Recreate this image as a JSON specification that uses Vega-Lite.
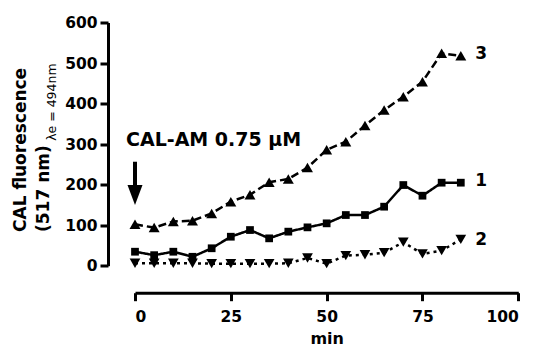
{
  "$schema": "https://vega.github.io/schema/vega-lite/v6.json",
  "width": 383.3,
  "height": 243.2,
  "autosize": {"type": "none"},
  "padding": {"left": 135, "top": 22.5, "right": 15.7, "bottom": 82.3},
  "background": "white",
  "config": {
    "font": "DejaVu Sans",
    "view": {"stroke": null},
    "axis": {
      "grid": false,
      "domainColor": "black",
      "domainWidth": 3,
      "tickColor": "black",
      "tickWidth": 3,
      "tickSize": 8,
      "labelFont": "DejaVu Sans",
      "labelFontWeight": "bold",
      "labelFontSize": 15.5,
      "labelColor": "black",
      "titleFont": "DejaVu Sans",
      "titleFontWeight": "bold",
      "titleColor": "black",
      "offset": 27
    }
  },
  "datasets": {
    "series": [
      {"t": 0, "v": 34.5, "s": "1"}, {"t": 5, "v": 26, "s": "1"}, {"t": 10, "v": 34.5, "s": "1"}, {"t": 15, "v": 22, "s": "1"},
      {"t": 20, "v": 43, "s": "1"}, {"t": 25, "v": 71.5, "s": "1"}, {"t": 30, "v": 88, "s": "1"}, {"t": 35, "v": 67.5, "s": "1"},
      {"t": 40, "v": 84, "s": "1"}, {"t": 45, "v": 94.6, "s": "1"}, {"t": 50, "v": 104.5, "s": "1"}, {"t": 55, "v": 125, "s": "1"},
      {"t": 60, "v": 125, "s": "1"}, {"t": 65, "v": 145.6, "s": "1"}, {"t": 70, "v": 199, "s": "1"}, {"t": 75, "v": 172.7, "s": "1"},
      {"t": 80, "v": 204.8, "s": "1"}, {"t": 85, "v": 204.8, "s": "1"},
      {"t": 0, "v": 6, "s": "2"}, {"t": 5, "v": 6, "s": "2"}, {"t": 10, "v": 6, "s": "2"}, {"t": 15, "v": 6, "s": "2"},
      {"t": 20, "v": 5, "s": "2"}, {"t": 25, "v": 5, "s": "2"}, {"t": 30, "v": 5, "s": "2"}, {"t": 35, "v": 5, "s": "2"},
      {"t": 40, "v": 6, "s": "2"}, {"t": 45, "v": 19, "s": "2"}, {"t": 50, "v": 5, "s": "2"}, {"t": 55, "v": 25, "s": "2"},
      {"t": 60, "v": 27, "s": "2"}, {"t": 65, "v": 32, "s": "2"}, {"t": 70, "v": 58, "s": "2"}, {"t": 75, "v": 29, "s": "2"},
      {"t": 80, "v": 37, "s": "2"}, {"t": 85, "v": 65, "s": "2"},
      {"t": 0, "v": 102, "s": "3"}, {"t": 5, "v": 94, "s": "3"}, {"t": 10, "v": 109, "s": "3"}, {"t": 15, "v": 111, "s": "3"},
      {"t": 20, "v": 129, "s": "3"}, {"t": 25, "v": 158, "s": "3"}, {"t": 30, "v": 175, "s": "3"}, {"t": 35, "v": 206, "s": "3"},
      {"t": 40, "v": 214, "s": "3"}, {"t": 45, "v": 242, "s": "3"}, {"t": 50, "v": 286, "s": "3"}, {"t": 55, "v": 306, "s": "3"},
      {"t": 60, "v": 346, "s": "3"}, {"t": 65, "v": 384, "s": "3"}, {"t": 70, "v": 417, "s": "3"}, {"t": 75, "v": 454, "s": "3"},
      {"t": 80, "v": 524, "s": "3"}, {"t": 85, "v": 518, "s": "3"}
    ],
    "labels": [
      {"t": 88.8, "v": 522, "label": "3"},
      {"t": 88.8, "v": 210, "label": "1"},
      {"t": 88.8, "v": 63, "label": "2"}
    ],
    "note": [{"t": -2.35, "v": 310, "label": "CAL-AM 0.75 µM"}],
    "arrow": [{"t": 0, "v": 256.5, "v2": 182}],
    "head": [{"t": 0, "v": 174.4}],
    "sub": [{"t": -21.7, "v": 308, "label": "λe = 494nm"}]
  },
  "layer": [
    {
      "data": {"name": "series"},
      "mark": {"type": "line", "strokeWidth": 2.5, "color": "black"},
      "encoding": {
        "x": {"field": "t", "type": "quantitative", "scale": {"domain": [0, 100], "nice": false},
              "axis": {"values": [0, 25, 50, 75, 100], "title": "min", "titleFontSize": 16, "titlePadding": 5, "labelPadding": 9}},
        "y": {"field": "v", "type": "quantitative", "scale": {"domain": [0, 600], "nice": false},
              "axis": {"values": [0, 100, 200, 300, 400, 500, 600], "labelPadding": 3,
                       "title": ["CAL fluorescence", "(517 nm)"], "titleFontSize": 17, "titleLineHeight": 23,
                       "titleAlign": "left", "titleY": 209, "titlePadding": 12}},
        "detail": {"field": "s", "type": "nominal"},
        "strokeDash": {"field": "s", "type": "nominal", "legend": null,
                       "scale": {"domain": ["1", "2", "3"], "range": [[1, 0], [3, 4], [8, 4]]}}
      }
    },
    {
      "data": {"name": "series"},
      "transform": [{"filter": "datum.s === '1'"}],
      "mark": {"type": "point", "shape": "square", "filled": true, "color": "black", "opacity": 1, "size": 60},
      "encoding": {"x": {"field": "t", "type": "quantitative"}, "y": {"field": "v", "type": "quantitative"}}
    },
    {
      "data": {"name": "series"},
      "transform": [{"filter": "datum.s === '2'"}],
      "mark": {"type": "point", "shape": "triangle-down", "filled": true, "color": "black", "opacity": 1, "size": 115},
      "encoding": {"x": {"field": "t", "type": "quantitative"}, "y": {"field": "v", "type": "quantitative"}}
    },
    {
      "data": {"name": "series"},
      "transform": [{"filter": "datum.s === '3'"}],
      "mark": {"type": "point", "shape": "triangle-up", "filled": true, "color": "black", "opacity": 1, "size": 120},
      "encoding": {"x": {"field": "t", "type": "quantitative"}, "y": {"field": "v", "type": "quantitative"}}
    },
    {
      "data": {"name": "labels"},
      "mark": {"type": "text", "align": "left", "baseline": "middle", "fontWeight": "bold", "fontSize": 17, "color": "black"},
      "encoding": {"x": {"field": "t", "type": "quantitative"}, "y": {"field": "v", "type": "quantitative"}, "text": {"field": "label"}}
    },
    {
      "data": {"name": "note"},
      "mark": {"type": "text", "align": "left", "baseline": "middle", "fontWeight": "bold", "fontSize": 19, "color": "black"},
      "encoding": {"x": {"field": "t", "type": "quantitative"}, "y": {"field": "v", "type": "quantitative"}, "text": {"field": "label"}}
    },
    {
      "data": {"name": "arrow"},
      "mark": {"type": "rule", "strokeWidth": 4, "color": "black"},
      "encoding": {"x": {"field": "t", "type": "quantitative"}, "y": {"field": "v", "type": "quantitative"}, "y2": {"field": "v2"}}
    },
    {
      "data": {"name": "head"},
      "mark": {"type": "point", "shape": "M-0.75,-1L0.75,-1L0,1Z", "filled": true, "color": "black", "opacity": 1, "size": 400},
      "encoding": {"x": {"field": "t", "type": "quantitative"}, "y": {"field": "v", "type": "quantitative"}}
    },
    {
      "data": {"name": "sub"},
      "mark": {"type": "text", "align": "left", "baseline": "middle", "angle": 270, "fontSize": 12.5, "color": "black"},
      "encoding": {"x": {"field": "t", "type": "quantitative"}, "y": {"field": "v", "type": "quantitative"}, "text": {"field": "label"}}
    }
  ]
}
